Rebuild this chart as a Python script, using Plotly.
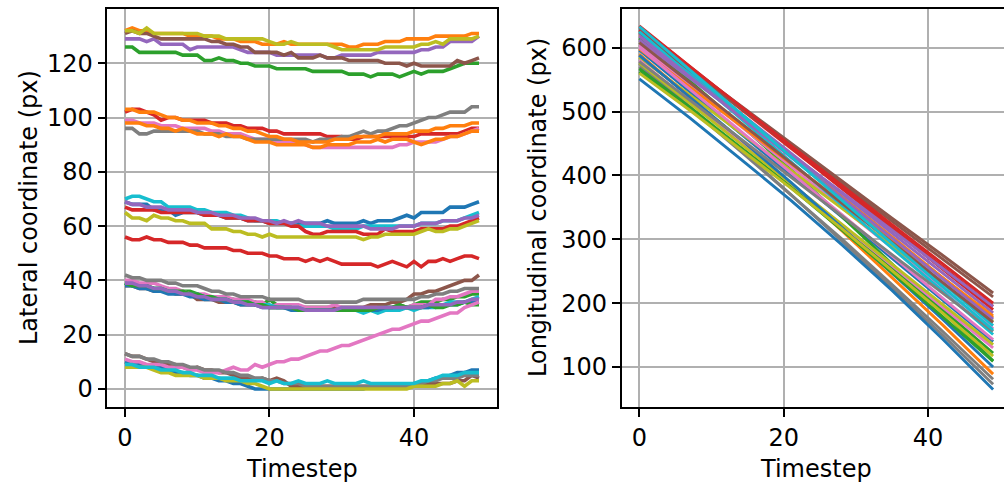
import plotly.graph_objects as go

# ---------------- data ----------------
timesteps = list(range(50))
long_timesteps = [0, 7, 14, 21, 28, 35, 42, 49]
x_tick_vals = [0, 20, 40]
lat_tick_vals = [0, 20, 40, 60, 80, 100, 120]
long_tick_vals = [100, 200, 300, 400, 500, 600]
palette = ['#1f77b4', '#ff7f0e', '#2ca02c', '#d62728', '#9467bd',
           '#8c564b', '#e377c2', '#7f7f7f', '#bcbd22', '#17becf']

# lateral coordinate (px), one list per vehicle, in plotting order
lat_v00 = [69,68,68,68,66,66,66,64,65,65,65,64,64,64,63,63,63,62,62,62,61,61,61,61,61,61,61,61,62,61,61,61,61,62,61,62,62,62,63,64,63,65,65,65,65,67,67,67,68,69]
lat_v01 = [132,133,132,132,131,131,131,131,131,130,130,130,130,129,129,129,128,128,128,127,127,127,128,127,127,127,127,127,127,127,127,126,126,127,127,127,128,128,128,129,129,129,129,130,130,130,130,130,131,131]
lat_v02 = [126,126,124,124,124,124,124,124,123,123,123,121,121,122,121,121,120,120,119,119,119,118,118,118,118,118,117,117,117,117,117,116,116,116,115,116,116,116,115,116,117,116,117,117,117,118,119,120,120,120]
lat_v03 = [102,103,103,102,101,99,100,100,99,99,99,99,98,98,98,97,97,96,96,96,95,95,94,94,94,94,94,94,93,93,93,92,92,93,93,93,93,93,93,93,93,94,94,94,94,94,94,95,96,96]
lat_v04 = [129,129,129,128,129,127,127,127,127,125,126,126,126,126,126,126,125,124,124,124,124,123,123,123,123,123,123,123,122,122,123,123,123,123,123,124,124,124,124,124,124,125,125,126,126,128,128,128,128,130]
lat_v05 = [131,132,131,131,130,129,129,129,129,129,129,129,128,128,127,127,126,126,124,124,124,124,123,124,122,122,122,123,122,122,122,121,121,121,121,121,120,120,120,119,120,119,119,119,119,119,121,120,121,122]
lat_v06 = [99,99,98,98,98,97,97,97,96,96,96,96,95,95,94,94,94,93,92,92,92,91,91,91,91,90,89,89,89,89,89,89,89,89,89,89,89,89,90,90,91,91,91,91,92,93,93,94,95,96]
lat_v07 = [96,96,94,94,95,95,95,95,95,95,95,94,94,94,93,93,93,92,92,92,92,92,92,92,92,92,91,92,92,92,93,93,94,95,94,95,95,96,97,97,98,99,100,100,101,102,102,102,104,104]
lat_v08 = [132,132,131,133,131,131,131,131,131,131,131,130,130,130,129,129,129,129,129,129,128,127,127,128,127,127,127,127,127,126,125,125,125,125,125,125,126,126,126,126,126,127,127,128,127,129,129,129,129,130]
lat_v09 = [70,71,71,70,69,69,67,67,67,67,66,66,65,65,65,64,64,63,62,62,62,62,61,61,60,60,60,60,60,59,59,59,59,60,60,60,60,60,60,60,60,61,61,61,62,62,62,63,64,65]
lat_v10 = [10,9,9,8,8,8,7,6,6,5,5,4,4,3,3,2,2,1,0,0,0,0,0,0,0,0,0,0,0,0,0,0,0,0,1,1,1,1,1,1,2,2,3,4,4,5,6,6,7,7]
lat_v11 = [103,103,102,102,102,101,100,100,99,99,98,98,98,97,97,96,96,95,95,94,93,93,92,92,91,91,91,91,91,92,92,92,93,93,93,93,94,94,94,94,95,95,95,96,96,97,97,97,98,98]
lat_v12 = [39,38,38,38,37,37,37,36,36,36,35,34,34,33,33,33,32,32,32,31,33,31,30,30,30,30,30,30,30,30,30,30,30,30,30,30,30,30,31,30,31,32,32,32,33,33,34,34,35,35]
lat_v13 = [67,66,66,66,66,65,65,65,65,65,65,64,64,64,63,63,63,62,62,62,61,61,61,60,60,58,57,57,58,58,58,58,58,57,57,57,59,58,58,58,58,59,59,59,59,60,60,61,62,63]
lat_v14 = [69,68,68,67,67,67,66,66,66,66,65,65,65,64,64,64,63,63,63,62,62,61,62,61,62,61,61,61,60,60,60,60,60,60,59,59,59,59,60,60,60,61,61,61,62,62,62,63,63,64]
lat_v15 = [38,38,37,37,36,36,36,35,35,35,33,33,33,32,32,32,31,31,31,31,30,30,30,30,30,30,30,30,30,30,30,30,30,30,31,31,31,32,32,33,35,35,36,36,37,38,39,40,40,42]
lat_v16 = [40,40,39,39,39,38,37,37,36,35,35,35,34,34,34,33,33,33,32,32,30,31,31,31,31,30,30,30,30,31,30,30,30,30,30,30,30,30,30,30,31,31,31,33,33,34,34,35,36,36]
lat_v17 = [42,41,41,40,40,40,39,39,38,38,38,37,36,36,35,35,34,34,34,34,33,33,33,33,33,32,32,32,32,32,32,32,32,33,33,33,33,33,33,33,33,34,34,35,35,36,36,37,37,37]
lat_v18 = [65,63,63,62,64,63,63,62,62,61,61,61,59,59,59,58,58,57,57,56,57,56,56,56,56,56,56,56,56,56,56,56,56,55,56,56,57,57,57,57,57,58,59,58,58,59,59,60,61,62]
lat_v19 = [39,38,38,37,37,37,36,36,35,35,35,34,34,33,33,32,32,32,31,31,31,30,30,30,30,29,29,29,29,29,29,29,29,28,29,28,29,29,29,30,29,30,30,30,31,32,32,32,33,34]
lat_v20 = [38,38,37,37,36,36,35,35,35,34,34,33,33,33,32,32,31,31,31,30,30,30,30,29,29,29,29,29,29,29,29,29,29,29,29,29,30,30,30,30,30,30,30,31,31,31,31,32,32,32]
lat_v21 = [98,98,98,97,97,96,96,95,96,95,94,94,94,93,94,93,93,92,91,91,91,90,90,90,90,90,89,89,90,90,90,90,91,91,91,92,91,92,92,92,91,90,91,92,92,93,93,94,95,95]
lat_v22 = [39,38,38,38,37,37,36,36,36,35,35,34,34,33,33,32,32,32,31,31,30,30,30,30,29,29,29,29,29,29,29,29,29,29,29,30,30,30,31,30,30,30,31,30,30,31,31,32,31,31]
lat_v23 = [56,55,55,56,55,55,54,54,54,53,53,52,52,52,52,51,51,50,50,50,49,49,48,48,48,47,48,47,48,47,46,46,46,46,46,45,46,47,46,45,47,45,47,47,48,47,48,49,49,48]
lat_v24 = [39,39,38,38,37,37,36,36,35,35,34,34,33,33,33,32,32,31,31,30,30,30,30,30,30,29,29,29,29,29,30,30,30,30,30,30,30,30,30,30,30,30,31,31,31,31,32,32,33,33]
lat_v25 = [13,12,12,11,10,10,9,9,8,7,8,7,7,6,6,5,4,4,3,4,3,4,3,1,1,1,1,1,1,1,1,1,1,1,1,1,1,1,1,1,1,2,2,2,2,2,3,3,5,4]
lat_v26 = [11,10,10,9,9,9,8,8,8,7,7,6,6,6,7,8,7,7,9,8,9,10,10,11,11,12,13,14,14,15,16,16,17,18,19,20,21,22,22,23,24,25,25,26,27,28,28,30,31,32]
lat_v27 = [13,12,12,11,11,10,10,9,9,8,8,7,7,7,6,6,5,5,4,4,3,3,2,2,2,1,1,1,1,1,1,1,1,1,1,1,1,1,1,1,1,2,3,3,4,4,4,5,5,5]
lat_v28 = [8,8,8,8,7,6,6,5,5,5,5,4,4,4,3,3,3,2,2,1,0,0,0,0,0,0,0,0,0,0,0,0,0,0,0,0,0,0,0,0,1,1,1,1,2,2,3,1,3,3]
lat_v29 = [9,9,8,8,8,7,7,7,6,6,5,5,5,4,4,4,3,3,3,3,2,3,2,2,3,2,2,2,3,2,2,2,2,3,2,2,2,2,2,2,2,3,3,4,5,5,5,6,6,6]

# longitudinal coordinate (px), read at long_timesteps
lon_v00 = [596, 531, 466, 401, 335, 270, 205, 140]
lon_v01 = [620, 557, 493, 430, 367, 304, 240, 177]
lon_v02 = [615, 548, 479, 409, 336, 262, 187, 110]
lon_v03 = [634, 571, 507, 444, 380, 317, 253, 190]
lon_v04 = [622, 560, 497, 435, 372, 310, 247, 185]
lon_v05 = [627, 568, 510, 451, 392, 333, 275, 216]
lon_v06 = [604, 541, 477, 414, 350, 287, 223, 160]
lon_v07 = [575, 508, 440, 370, 298, 224, 150, 73]
lon_v08 = [585, 526, 467, 408, 349, 290, 231, 172]
lon_v09 = [630, 564, 497, 431, 364, 298, 231, 165]
lon_v10 = [551, 490, 426, 361, 292, 220, 144, 65]
lon_v11 = [590, 523, 455, 385, 314, 240, 166, 89]
lon_v12 = [562, 504, 444, 383, 321, 256, 190, 122]
lon_v13 = [628, 566, 504, 442, 381, 319, 257, 195]
lon_v14 = [612, 552, 493, 433, 374, 314, 255, 195]
lon_v15 = [624, 565, 506, 447, 387, 328, 269, 210]
lon_v16 = [580, 516, 451, 387, 323, 259, 194, 130]
lon_v17 = [570, 505, 438, 370, 301, 229, 156, 81]
lon_v18 = [576, 513, 450, 387, 324, 261, 198, 135]
lon_v19 = [625, 557, 490, 422, 354, 286, 219, 151]
lon_v20 = [588, 523, 457, 389, 319, 247, 175, 100]
lon_v21 = [598, 538, 479, 419, 359, 299, 240, 180]
lon_v22 = [567, 507, 444, 381, 315, 248, 179, 109]
lon_v23 = [632, 570, 509, 447, 385, 323, 262, 200]
lon_v24 = [618, 555, 491, 428, 365, 302, 238, 175]
lon_v25 = [608, 545, 483, 420, 357, 295, 232, 170]
lon_v26 = [600, 535, 469, 404, 339, 274, 208, 143]
lon_v27 = [578, 518, 457, 397, 337, 276, 216, 156]
lon_v28 = [560, 502, 441, 380, 317, 251, 185, 117]
lon_v29 = [633, 565, 497, 429, 361, 294, 226, 158]

lateral = [lat_v00, lat_v01, lat_v02, lat_v03, lat_v04, lat_v05, lat_v06, lat_v07, lat_v08, lat_v09,
           lat_v10, lat_v11, lat_v12, lat_v13, lat_v14, lat_v15, lat_v16, lat_v17, lat_v18, lat_v19,
           lat_v20, lat_v21, lat_v22, lat_v23, lat_v24, lat_v25, lat_v26, lat_v27, lat_v28, lat_v29]
longitudinal = [lon_v00, lon_v01, lon_v02, lon_v03, lon_v04, lon_v05, lon_v06, lon_v07, lon_v08, lon_v09,
                lon_v10, lon_v11, lon_v12, lon_v13, lon_v14, lon_v15, lon_v16, lon_v17, lon_v18, lon_v19,
                lon_v20, lon_v21, lon_v22, lon_v23, lon_v24, lon_v25, lon_v26, lon_v27, lon_v28, lon_v29]

# ---------------- figure ----------------
W, H = 1004, 485
fig = go.Figure()
for i, series in enumerate(lateral):
    fig.add_trace(go.Scatter(x=timesteps, y=series, mode='lines',
                             line=dict(color=palette[i % 10], width=3.6),
                             xaxis='x', yaxis='y', showlegend=False, hoverinfo='skip'))
for i, series in enumerate(longitudinal):
    fig.add_trace(go.Scatter(x=long_timesteps, y=series, mode='lines',
                             line=dict(color=palette[i % 10], width=2.9),
                             xaxis='x2', yaxis='y2', showlegend=False, hoverinfo='skip'))

FONT = 'DejaVu Sans'
FS = 24
axis_common = dict(showline=True, linecolor='black', linewidth=1.6,
                   ticks='outside', ticklen=8, tickwidth=1.6, tickcolor='black',
                   showgrid=True, gridcolor='#b0b0b0', gridwidth=1.6, zeroline=False,
                   tickfont=dict(family=FONT, size=FS, color='black'))

label_y = -(469 - 407.3) / 398.3
fig.update_layout(
    width=W, height=H,
    margin=dict(l=0, r=0, t=9, b=78),
    paper_bgcolor='white', plot_bgcolor='white',
    font=dict(family=FONT, size=FS, color='black'),
    xaxis=dict(domain=[107.3 / W, 496.7 / W], range=[-2.45, 51.45], anchor='y',
               tickvals=x_tick_vals, mirror=True, **axis_common),
    yaxis=dict(domain=[0, 1], range=[-6.65, 140.0], anchor='x',
               tickvals=lat_tick_vals, mirror=True, **axis_common),
    xaxis2=dict(domain=[621.6 / W, 1.0], range=[-2.45, 50.51], anchor='y2',
                tickvals=x_tick_vals, mirror=True, **axis_common),
    yaxis2=dict(domain=[0, 1], range=[37.5, 660.5], anchor='x2',
                tickvals=long_tick_vals, mirror=False, **axis_common),
    annotations=[
        dict(text='Lateral coordinate (px)', x=29 / W, y=0.5, xref='paper', yref='paper',
             textangle=-90, showarrow=False, xanchor='center', yanchor='middle',
             font=dict(family=FONT, size=FS, color='black')),
        dict(text='Longitudinal coordinate (px)', x=538 / W, y=0.5, xref='paper', yref='paper',
             textangle=-90, showarrow=False, xanchor='center', yanchor='middle',
             font=dict(family=FONT, size=FS, color='black')),
        dict(text='Timestep', x=302 / W, y=label_y, xref='paper', yref='paper',
             showarrow=False, xanchor='center', yanchor='middle',
             font=dict(family=FONT, size=FS, color='black')),
        dict(text='Timestep', x=816 / W, y=label_y, xref='paper', yref='paper',
             showarrow=False, xanchor='center', yanchor='middle',
             font=dict(family=FONT, size=FS, color='black')),
    ],
)

fig.write_html('out.html', config={'displayModeBar': False},
               post_script="document.body.style.margin='0';document.body.style.overflow='hidden';")
